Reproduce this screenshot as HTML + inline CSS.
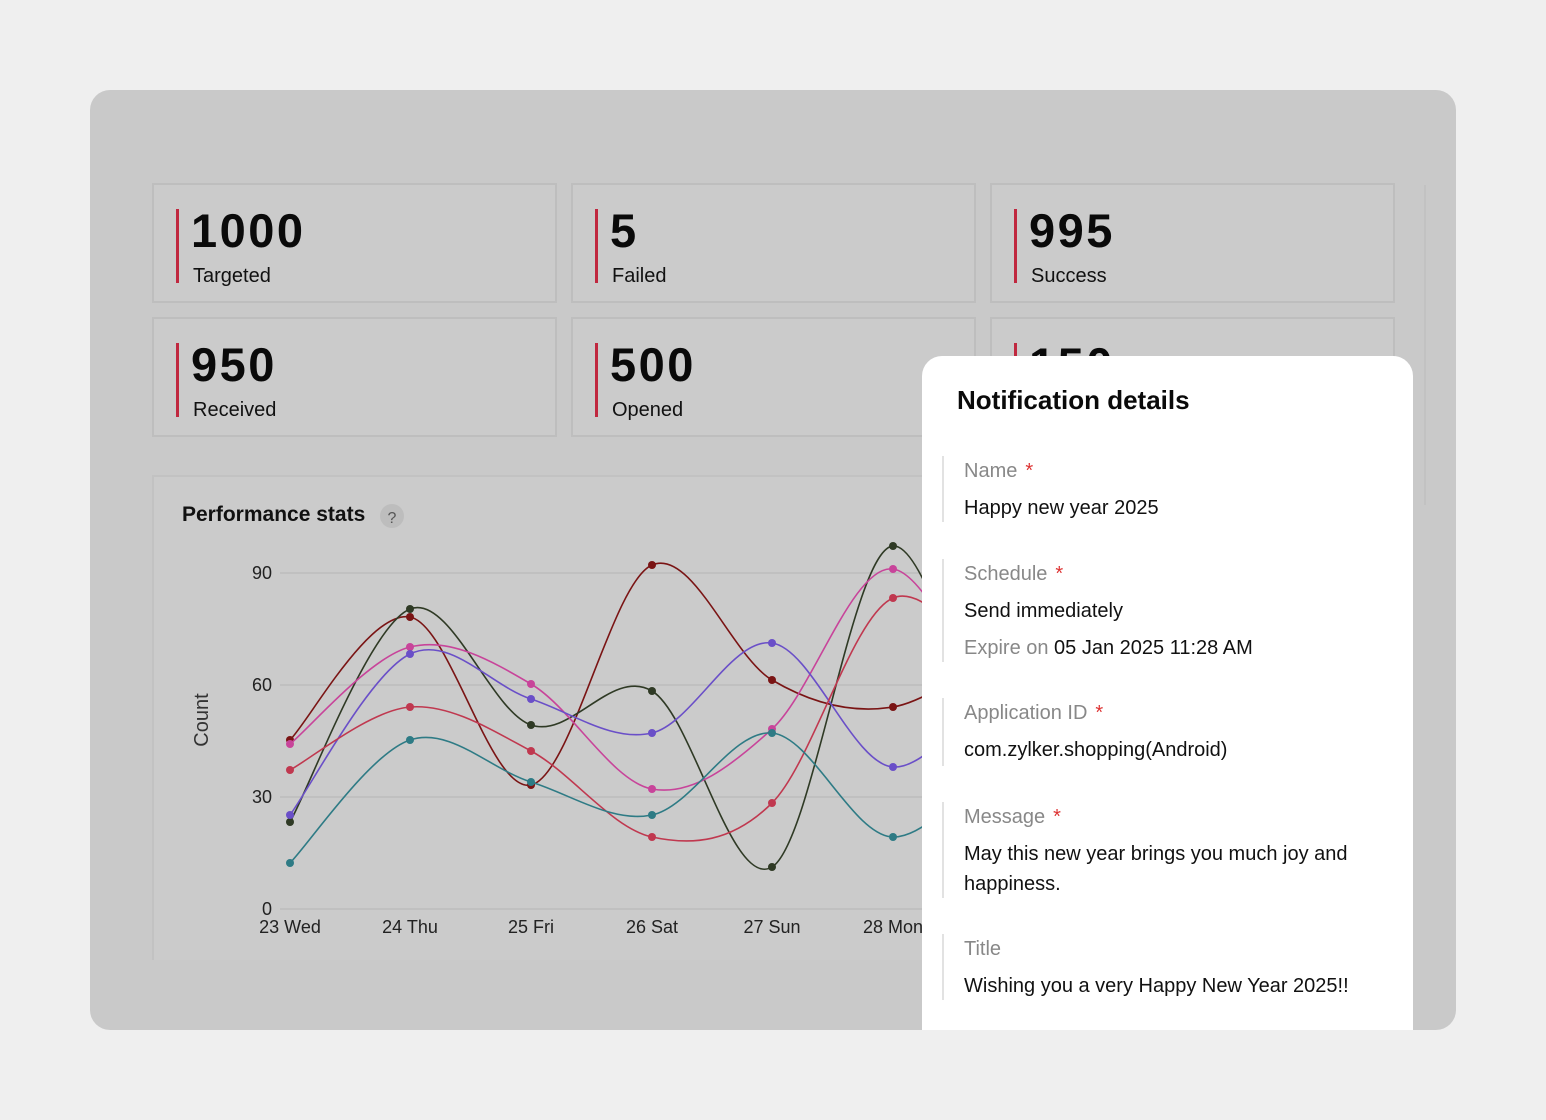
<!DOCTYPE html>
<html><head><meta charset="utf-8"><style>
*{margin:0;padding:0;box-sizing:border-box}
body{width:1546px;height:1120px;background:#efefef;font-family:"Liberation Sans",sans-serif;position:relative;overflow:hidden}
.outer{position:absolute;left:90px;top:90px;width:1366px;height:940px;background:#c9c9c9;border-radius:20px;overflow:hidden}
.card{position:absolute;width:405px;height:120px;background:#cbcbcb;border:2px solid #bebebe}
.card .bar{position:absolute;left:22px;top:24px;width:3px;height:74px;background:#c0283f}
.card .num{position:absolute;left:37px;top:18px;font-size:47px;font-weight:bold;color:#0a0a0a;letter-spacing:2.5px}
.card .lbl{position:absolute;left:39px;top:80px;font-size:20px;color:#111}
.chartp{position:absolute;left:62px;top:385px;width:900px;height:485px;background:#cbcbcb;border:2px solid #c2c2c2;border-bottom:none}
.panel{position:absolute;left:922px;top:356px;width:491px;height:674px;background:#fff;border-radius:20px 20px 0 0;overflow:hidden}
.panel h2{position:absolute;left:35px;top:29px;font-size:26px;font-weight:bold;color:#0a0a0a}
.f{position:absolute;left:20px;border-left:2px solid #e2e2e2;padding-left:20px}
.k{font-size:20px;color:#888;line-height:28px;margin-top:1px}
.k b{color:#d33;font-weight:normal;margin-left:8px}
.v{font-size:20px;color:#111;line-height:30px;margin-top:8px}
</style></head><body>
<div class="outer">
<div class="card" style="left:62px;top:93px"><div class="bar"></div><div class="num">1000</div><div class="lbl">Targeted</div></div>
<div class="card" style="left:481px;top:93px"><div class="bar"></div><div class="num">5</div><div class="lbl">Failed</div></div>
<div class="card" style="left:900px;top:93px"><div class="bar"></div><div class="num">995</div><div class="lbl">Success</div></div>
<div class="card" style="left:62px;top:227px"><div class="bar"></div><div class="num">950</div><div class="lbl">Received</div></div>
<div class="card" style="left:481px;top:227px"><div class="bar"></div><div class="num">500</div><div class="lbl">Opened</div></div>
<div class="card" style="left:900px;top:227px"><div class="bar"></div><div class="num">150</div><div class="lbl">Clicked</div></div>
<div style="position:absolute;left:1334px;top:95px;width:2px;height:320px;background:#c2c2c2"></div>
<div class="chartp"></div>
</div>
<svg id="ch" style="position:absolute;left:0;top:0" width="1546" height="1120" font-family="Liberation Sans, sans-serif">
<text x="182" y="521" font-size="21" font-weight="bold" fill="#111">Performance stats</text>
<circle cx="392" cy="516" r="12" fill="#bdbdbd"/><text x="392" y="523" font-size="16" fill="#555" text-anchor="middle">?</text>
<g stroke="#bcbcbc" stroke-width="1.5"><line x1="280" y1="573" x2="930" y2="573"/><line x1="280" y1="685" x2="930" y2="685"/><line x1="280" y1="797" x2="930" y2="797"/><line x1="280" y1="909" x2="930" y2="909"/></g>
<g font-size="18" fill="#222"><text x="272" y="579" text-anchor="end">90</text><text x="272" y="691" text-anchor="end">60</text><text x="272" y="803" text-anchor="end">30</text><text x="272" y="915" text-anchor="end">0</text>
<text x="290" y="933" text-anchor="middle">23 Wed</text><text x="410" y="933" text-anchor="middle">24 Thu</text><text x="531" y="933" text-anchor="middle">25 Fri</text><text x="652" y="933" text-anchor="middle">26 Sat</text><text x="772" y="933" text-anchor="middle">27 Sun</text><text x="893" y="933" text-anchor="middle">28 Mon</text></g>
<text transform="translate(208,720) rotate(-90)" font-size="20" fill="#333" text-anchor="middle">Count</text>
<g id="series"></g>
</svg>
<div class="panel">
<h2>Notification details</h2>
<div class="f" style="top:100px;height:66px"><div class="k">Name<b>*</b></div><div class="v">Happy new year 2025</div></div>
<div class="f" style="top:203px;height:103px"><div class="k">Schedule<b>*</b></div><div class="v">Send immediately</div><div class="v" style="margin-top:7px"><span style="color:#888">Expire on</span> 05 Jan 2025 11:28 AM</div></div>
<div class="f" style="top:342px;height:68px"><div class="k">Application ID<b>*</b></div><div class="v">com.zylker.shopping(Android)</div></div>
<div class="f" style="top:446px;height:96px"><div class="k">Message<b>*</b></div><div class="v" style="width:420px">May this new year brings you much joy and happiness.</div></div>
<div class="f" style="top:578px;height:66px"><div class="k">Title</div><div class="v">Wishing you a very Happy New Year 2025!!</div></div>
</div>
<script>
var xs=[290,410,531,652,772,893,1013];
var S=[["#7a1414",[740,617,785,565,680,707,640]],["#2f3a25",[822,609,725,691,867,546,850]],["#c8449a",[744,647,684,789,729,569,760]],["#6a4fc8",[815,654,699,733,643,767,660]],["#c0384f",[770,707,751,837,803,598,700]],["#2e7b85",[863,740,782,815,733,837,740]]];
var g=document.getElementById('series'),h='';
S.forEach(function(s){var y=s[1],d='M'+xs[0]+' '+y[0];
for(var i=0;i<6;i++){var p0=i?i-1:0,p3=i<5?i+2:6;
var c1x=xs[i]+(xs[i+1]-xs[p0])/6,c1y=y[i]+(y[i+1]-y[p0])/6,c2x=xs[i+1]-(xs[p3]-xs[i])/6,c2y=y[i+1]-(y[p3]-y[i])/6;
d+=' C'+c1x+' '+c1y+' '+c2x+' '+c2y+' '+xs[i+1]+' '+y[i+1];}
h+='<path d="'+d+'" fill="none" stroke="'+s[0]+'" stroke-width="1.6"/>';
for(var j=0;j<6;j++)h+='<circle cx="'+xs[j]+'" cy="'+y[j]+'" r="4" fill="'+s[0]+'"/>';});
g.innerHTML=h;
</script>
</body></html>
